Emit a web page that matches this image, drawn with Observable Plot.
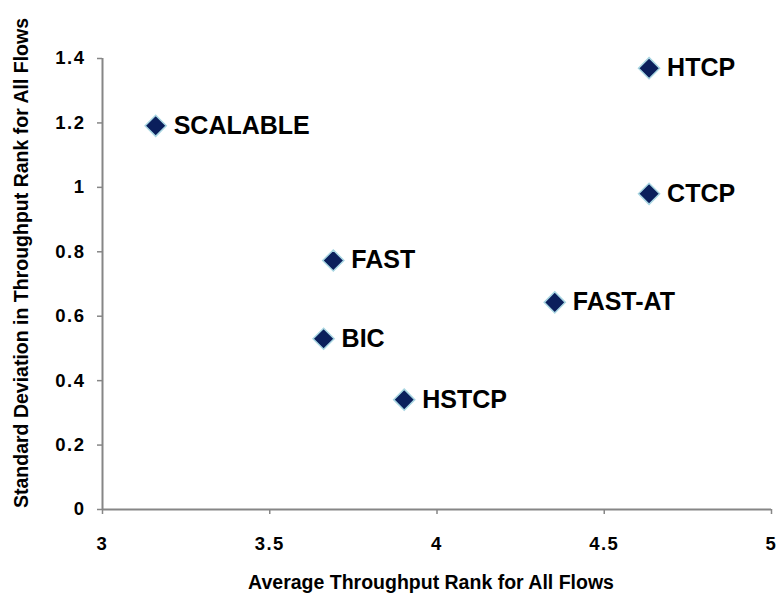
<!DOCTYPE html>
<html>
<head>
<meta charset="utf-8">
<script src="https://cdn.jsdelivr.net/npm/d3@7"></script>
<script src="https://cdn.jsdelivr.net/npm/@observablehq/plot@0.6"></script>
<style>
  html, body { margin: 0; padding: 0; background: #fff; }
  #chart { width: 777px; height: 595px; }
</style>
</head>
<body>
<div id="chart"></div>
<script>
const names = ["SCALABLE", "HTCP", "CTCP", "FAST", "FAST-AT", "BIC", "HSTCP"];
const avgRank = [3.159, 4.634, 4.634, 3.690, 4.352, 3.661, 3.902];
const sdRank = [1.191, 1.370, 0.980, 0.773, 0.643, 0.530, 0.341];
const xTicks = [3, 3.5, 4, 4.5, 5];
const yTicks = [0, 0.2, 0.4, 0.6, 0.8, 1, 1.2, 1.4];
const xTitle = "Average Throughput Rank for All Flows";
const yTitle = "Standard Deviation in Throughput Rank for All Flows";

const data = names.map((n, i) => ({name: n, x: avgRank[i], y: sdRank[i]}));

const font = "'Liberation Sans', Arial, sans-serif";
const axisColor = "#868686";

const chart = Plot.plot({
  width: 777,
  height: 595,
  marginLeft: 102,
  marginRight: 6,
  marginTop: 58,
  marginBottom: 86,
  style: {fontFamily: font, fontWeight: "bold", background: "#fff", color: "#000"},
  x: {domain: [3, 5]},
  y: {domain: [0, 1.4]},
  marks: [
    Plot.axisX({ticks: xTicks, tickSize: 5, stroke: axisColor, strokeWidth: 1.5, tickPadding: 22, fontSize: 18.5, label: null, fill: "#000", tickFormat: d => String(d)}),
    Plot.axisY({ticks: yTicks, tickSize: 5, stroke: axisColor, strokeWidth: 1.5, tickPadding: 12, fontSize: 18.5, label: null, fill: "#000", tickFormat: d => String(d)}),
    Plot.ruleX([3], {stroke: axisColor, strokeWidth: 2}),
    Plot.ruleY([0], {stroke: axisColor, strokeWidth: 2}),
    Plot.dot(data, {x: "x", y: "y", symbol: "diamond2", r: 9.5, fill: "#0B1F5C", stroke: "#A9D6E2", strokeWidth: 1.5}),
    Plot.text(data, {x: "x", y: "y", text: "name", textAnchor: "start", dx: 18, fontSize: 25, fontWeight: "bold", fill: "#000", ariaLabel: "pointlabels"}),
    Plot.text([xTitle], {frameAnchor: "bottom", textAnchor: "middle", lineAnchor: "middle", dy: 73, dx: -6, fontSize: 19.5, fontWeight: "bold", fill: "#000", ariaLabel: "titles"}),
    Plot.text([yTitle], {frameAnchor: "left", textAnchor: "middle", lineAnchor: "middle", rotate: -90, dx: -80.5, dy: -21, fontSize: 19.5, fontWeight: "bold", fill: "#000", ariaLabel: "titles"})
  ]
});
d3.select(chart).selectAll("g[aria-label='titles'] text").style("letter-spacing", "1.6px");
d3.select(chart).selectAll("g[aria-label='x-axis tick label'] text, g[aria-label='y-axis tick label'] text").style("letter-spacing", "1.5px");
d3.select(chart).selectAll("g[aria-label='pointlabels'] text").style("letter-spacing", "0.5px");
document.getElementById("chart").appendChild(chart);
</script>
</body>
</html>
